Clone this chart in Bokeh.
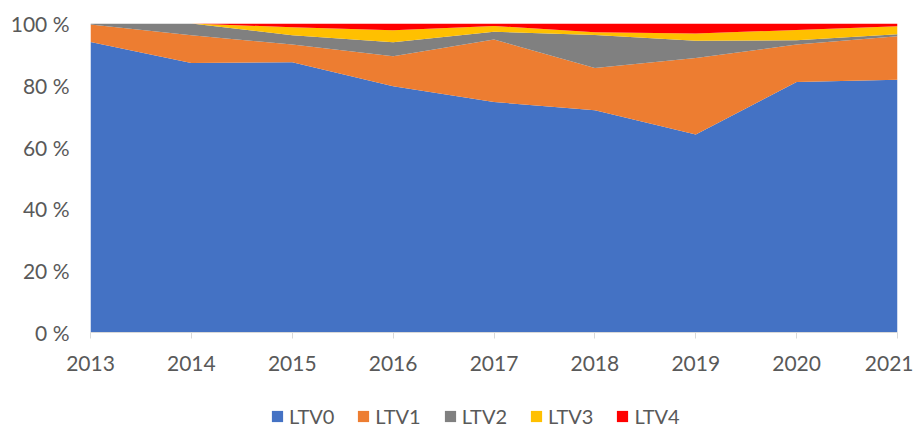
from bokeh.plotting import figure
from bokeh.layouts import column
from bokeh.models import Legend, LegendItem, FixedTicker, CustomJSTickFormatter, Range1d
from bokeh.embed import file_html
from bokeh.resources import INLINE

years = [2013, 2014, 2015, 2016, 2017, 2018, 2019, 2020, 2021]
ltv0 = [94.0, 87.2, 87.5, 79.7, 74.6, 71.9, 64.1, 81.1, 81.8]
ltv1 = [5.7, 9.0, 5.7, 9.7, 20.2, 13.7, 24.7, 12.1, 14.1]
ltv2 = [0.3, 3.8, 3.0, 4.5, 2.5, 10.7, 5.6, 1.4, 0.6]
ltv3 = [0.0, 0.0, 2.6, 3.9, 1.9, 0.9, 2.4, 3.3, 2.6]
ltv4 = [0.0, 0.0, 1.2, 2.2, 0.8, 2.8, 3.2, 2.1, 0.9]
names = ["LTV0", "LTV1", "LTV2", "LTV3", "LTV4"]
colors = ["#4472C4", "#ED7D31", "#808080", "#FFC000", "#FF0000"]
y_ticks = [0, 20, 40, 60, 80, 100]

data = {"year": years, "LTV0": ltv0, "LTV1": ltv1, "LTV2": ltv2, "LTV3": ltv3, "LTV4": ltv4}

FONT = "Lato"
TXT = "#595959"

p = figure(width=913, height=395, output_backend="svg", toolbar_location=None,
           x_range=Range1d(2013, 2021), y_range=Range1d(0, 100),
           min_border_left=90, min_border_right=16, min_border_top=23, min_border_bottom=63)
p.outline_line_color = None
p.xgrid.grid_line_color = None
p.ygrid.grid_line_color = None

rs = p.varea_stack(stackers=names, x="year", color=colors, source=data)

p.xaxis.ticker = FixedTicker(ticks=years)
p.xaxis.axis_line_color = "#D9D9D9"
p.xaxis.major_tick_line_color = "#D9D9D9"
p.xaxis.major_tick_out = 6
p.xaxis.major_tick_in = 0
p.xaxis.minor_tick_line_color = None
p.xaxis.major_label_standoff = 17
p.xaxis.major_label_text_font = FONT
p.xaxis.major_label_text_font_size = "21px"
p.xaxis.major_label_text_color = TXT

p.yaxis.ticker = FixedTicker(ticks=y_ticks)
p.yaxis.formatter = CustomJSTickFormatter(code="return tick + ' %';")
p.yaxis.axis_line_color = None
p.yaxis.major_tick_line_color = None
p.yaxis.minor_tick_line_color = None
p.yaxis.major_tick_out = 0
p.yaxis.major_label_standoff = 21
p.yaxis.major_label_text_font = FONT
p.yaxis.major_label_text_font_size = "21px"
p.yaxis.major_label_text_color = TXT

# legend strip below the chart (its frame is aligned with the chart frame)
p2 = figure(width=913, height=33, output_backend="svg", toolbar_location=None,
            x_range=Range1d(0, 1), y_range=Range1d(0, 1),
            min_border_left=90, min_border_right=16, min_border_top=0, min_border_bottom=0)
p2.axis.visible = False
p2.grid.visible = False
p2.outline_line_color = None
rs2 = p2.varea_stack(stackers=names, x="year", color=colors, source=data)
items = [LegendItem(label=n, renderers=[r]) for n, r in zip(names, rs2)]
legend = Legend(items=items, orientation="horizontal", location=(180, 0),
                glyph_width=14, glyph_height=14, label_text_font=FONT,
                label_text_font_size="20px", label_text_color=TXT,
                spacing=22, label_standoff=5, padding=0, margin=0,
                border_line_color=None, background_fill_alpha=0)
p2.add_layout(legend, "center")

layout = column(p, p2, spacing=0)
open("out.html", "w").write(file_html(layout, INLINE))
